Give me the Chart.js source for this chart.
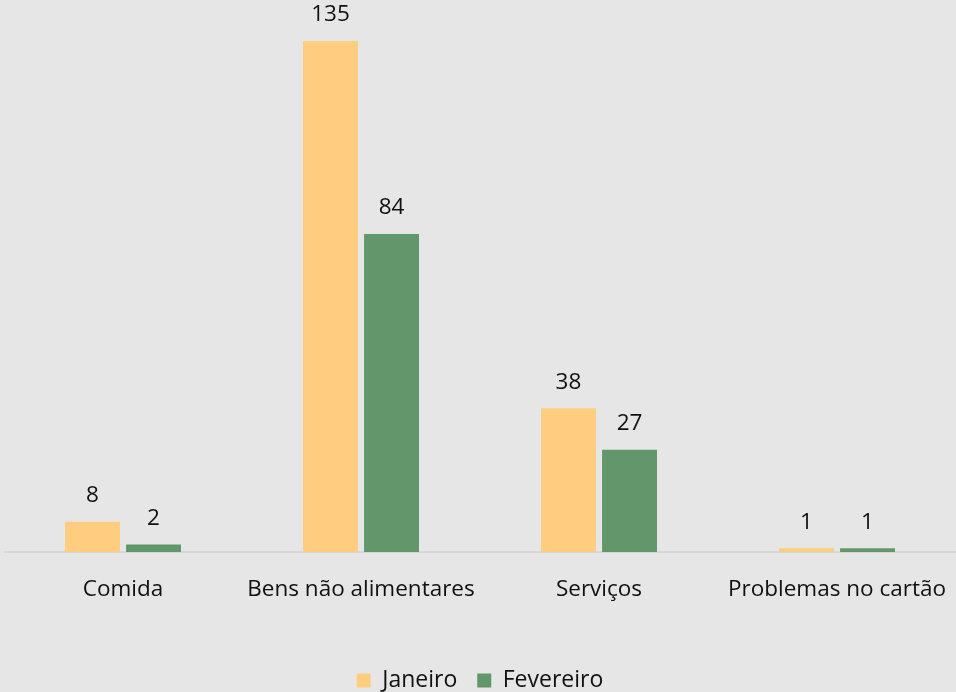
<!DOCTYPE html>
<html>
<head>
<meta charset="utf-8">
<script src="https://cdn.jsdelivr.net/npm/chart.js@4/dist/chart.umd.min.js"></script>
<style>
  html, body { margin: 0; padding: 0; background: #e6e6e6; }
  #wrap { width: 956px; height: 692px; }
</style>
</head>
<body>
<div id="wrap"><canvas id="c" width="956" height="692"></canvas></div>
<script>
const categories = ['Comida', 'Bens não alimentares', 'Serviços', 'Problemas no cartão'];
const janeiro = [8, 135, 38, 1];
const fevereiro = [2, 84, 27, 1];
const seriesNames = ['Janeiro', 'Fevereiro'];

const FONT = "'Open Sans', 'DejaVu Sans', sans-serif";

// Value labels drawn above each bar
const barValueLabels = {
  id: 'barValueLabels',
  afterDatasetsDraw(chart) {
    const ctx = chart.ctx;
    ctx.save();
    ctx.fillStyle = '#111';
    ctx.font = '22.5px ' + FONT;
    ctx.textAlign = 'center';
    ctx.textBaseline = 'middle';
    chart.data.datasets.forEach((ds, i) => {
      chart.getDatasetMeta(i).data.forEach((bar, j) => {
        ctx.fillText(String(ds.data[j]), bar.x, bar.y - 26);
      });
    });
    ctx.restore();
  }
};

// Light baseline under the bars
const baseLine = {
  id: 'baseLine',
  beforeDatasetsDraw(chart) {
    const { ctx, chartArea } = chart;
    const y = chart.scales.y.getPixelForValue(0);
    ctx.save();
    ctx.strokeStyle = '#d2d2d2';
    ctx.lineWidth = 1.5;
    ctx.beginPath();
    ctx.moveTo(chartArea.left, y);
    ctx.lineTo(chartArea.right, y);
    ctx.stroke();
    ctx.restore();
  }
};

new Chart(document.getElementById('c'), {
  type: 'bar',
  data: {
    labels: categories,
    datasets: [
      { label: seriesNames[0], data: janeiro, backgroundColor: '#ffcd80' },
      { label: seriesNames[1], data: fevereiro, backgroundColor: '#62976b' }
    ]
  },
  options: {
    responsive: false,
    animation: false,
    layout: { padding: { left: 4, right: 0, top: 22, bottom: -10 } },
    datasets: { bar: { categoryPercentage: 0.513, barPercentage: 0.9 } },
    scales: {
      x: {
        grid: { display: false, drawTicks: false },
        border: { display: false },
        ticks: { color: '#111', font: { family: FONT, size: 22.5 }, padding: 24, maxRotation: 0, autoSkip: false },
        afterFit(scale) {
          scale.height = 97;
          scale.paddingLeft = 0;
          scale.paddingRight = 0;
        }
      },
      y: {
        display: false,
        min: 0,
        max: 140
      }
    },
    plugins: {
      legend: {
        position: 'bottom',
        labels: {
          color: '#111',
          font: { family: FONT, size: 23 },
          boxWidth: 14,
          boxHeight: 14,
          padding: 20
        }
      },
      tooltip: { enabled: false }
    }
  },
  plugins: [baseLine, barValueLabels]
});
</script>
</body>
</html>
